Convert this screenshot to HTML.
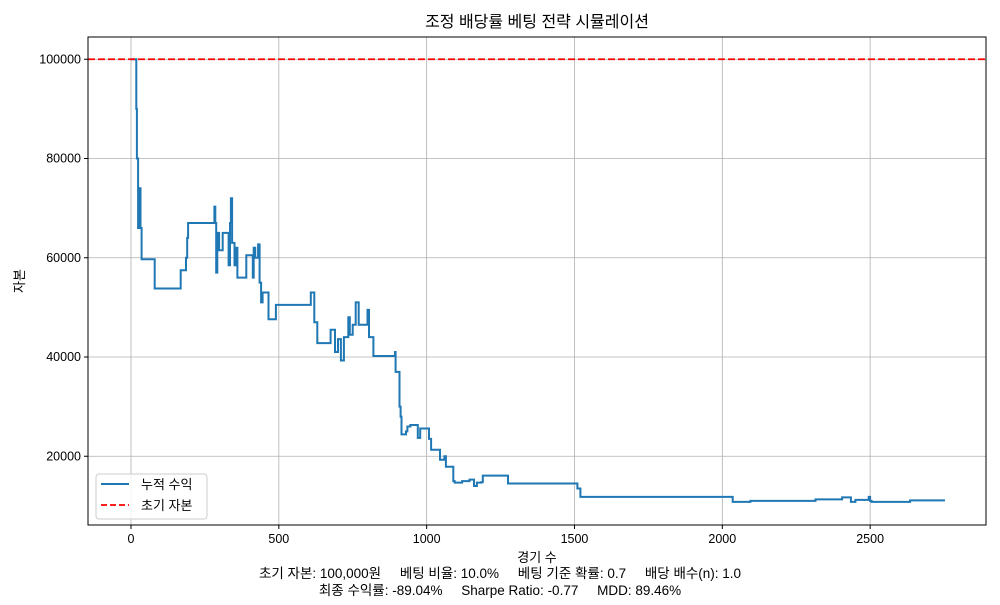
<!DOCTYPE html>
<html><head><meta charset="utf-8"><style>
body{margin:0;background:#fff;}
svg text{font-family:"Liberation Sans","Noto Sans CJK KR",sans-serif;fill:#000;}
</style></head><body>
<svg id="chart" width="1000" height="600" xmlns="http://www.w3.org/2000/svg">
<rect width="1000" height="600" fill="#fff"/>
<text x="537" y="27" font-size="16" text-anchor="middle">조정 배당률 베팅 전략 시뮬레이션</text>
<g id="grid"></g>
<g id="ticks"></g>
<path id="line" fill="none" stroke="#1f77b4" stroke-width="2" stroke-linejoin="miter"/>
<line id="initline" stroke="#ff0000" stroke-width="1.8" stroke-dasharray="7,3"/>
<rect x="88" y="37" width="898" height="488" fill="none" stroke="#000" stroke-width="1"/>
<text x="537" y="562" font-size="13" text-anchor="middle">경기 수</text>
<text x="24" y="281" font-size="13" text-anchor="middle" transform="rotate(-90 24 281)">자본</text>
<g>
<rect x="96" y="474" width="111" height="45" rx="3" fill="#fff" fill-opacity="0.85" stroke="#ccc"/>
<line x1="101" y1="484" x2="129" y2="484" stroke="#1f77b4" stroke-width="2"/>
<text x="141" y="489" font-size="13">누적 수익</text>
<line x1="101" y1="505" x2="129" y2="505" stroke="#ff0000" stroke-width="1.8" stroke-dasharray="6,3"/>
<text x="141" y="510" font-size="13">초기 자본</text>
</g>
<text x="500" y="578" font-size="13.5" text-anchor="middle" xml:space="preserve">초기 자본: 100,000원     베팅 비율: 10.0%     베팅 기준 확률: 0.7     배당 배수(n): 1.0</text>
<text x="500" y="595" font-size="13.5" text-anchor="middle" xml:space="preserve">최종 수익률: -89.04%     Sharpe Ratio: -0.77     MDD: 89.46%</text>
</svg>
<script>
const games=[0,15,18,20,24,26,28,30,32,34,36,42,78,80,165,168,183,186,190,193,280,282,285,288,292,298,305,310,325,330,335,338,342,350,355,360,385,390,410,412,415,420,430,435,440,445,460,465,485,490,605,608,615,620,630,670,675,685,690,700,710,720,735,740,750,760,770,795,800,805,815,820,890,893,895,905,908,912,915,930,935,945,965,970,978,1005,1008,1015,1040,1045,1055,1060,1065,1085,1090,1095,1110,1120,1145,1155,1160,1170,1185,1190,1270,1275,1505,1510,1520,2030,2035,2090,2095,2310,2315,2400,2405,2430,2435,2450,2490,2495,2500,2505,2630,2635,2753];
const capital=[100000,100000,90000,80000,66000,73000,66000,74000,66000,66000,59700,59700,59700,53800,53800,57500,57500,60000,64000,67000,67000,70300,67000,57000,65000,61500,61500,65000,65000,58500,67000,72000,63000,58500,62000,56000,56000,60500,60500,56000,62000,60000,62700,55000,51000,53000,53000,47600,47600,50500,50500,53000,53000,47000,42800,42800,45500,45500,41000,43600,39300,44000,48000,44500,46500,51000,46500,46500,49500,44000,44000,40200,40200,41000,37000,37000,30000,28000,24400,25000,26000,26300,26300,23700,25600,25600,23500,21300,21300,19300,19300,20000,17900,17900,15000,14700,14700,15000,15300,15300,14000,14700,14800,16100,16100,14500,14500,13500,11800,11800,10800,10800,11000,11000,11300,11300,11700,11700,10800,11200,11200,11800,11000,10800,10800,11100,11100];
const xTicks=[0,500,1000,1500,2000,2500];
const yTicks=[20000,40000,60000,80000,100000];
const initialCapital=100000;
const X=v=>131+(v)*0.29566;
const Y=v=>555.5-v*0.0049625;
const NS="http://www.w3.org/2000/svg";
const grid=document.getElementById('grid'),ticks=document.getElementById('ticks');
function mk(tag,attrs,parent){const e=document.createElementNS(NS,tag);for(const k in attrs)e.setAttribute(k,attrs[k]);parent.appendChild(e);return e;}
xTicks.forEach(t=>{
  const g=mk('line',{x1:X(t),x2:X(t),y1:37,y2:525,stroke:'#b0b0b0','stroke-width':0.8},grid);
  
  
  mk('line',{x1:X(t),x2:X(t),y1:525,y2:529,stroke:'#000'},ticks);
  const tx=mk('text',{x:X(t),y:543,'font-size':12.5,'text-anchor':'middle'},ticks);
  tx.textContent=t;
  
  
});
yTicks.forEach(t=>{
  const g=mk('line',{x1:88,x2:986,y1:Y(t),y2:Y(t),stroke:'#b0b0b0','stroke-width':0.8},grid);
  
  
  mk('line',{x1:84,x2:88,y1:Y(t),y2:Y(t),stroke:'#000'},ticks);
  const tx=mk('text',{x:81,y:Y(t)+4,'font-size':12.5,'text-anchor':'end'},ticks);
  tx.textContent=t;
  
  
});
let d='';
games.forEach((g,i)=>{
  const x=X(g).toFixed(1),y=Y(capital[i]).toFixed(1);
  if(i===0)d+='M'+x+','+y;
  else d+='H'+x+'V'+y;
});
document.getElementById('line').setAttribute('d',d);
const il=document.getElementById('initline');
il.setAttribute('x1',88);il.setAttribute('x2',986);
il.setAttribute('y1',Y(initialCapital));il.setAttribute('y2',Y(initialCapital));
</script>
</body></html>
